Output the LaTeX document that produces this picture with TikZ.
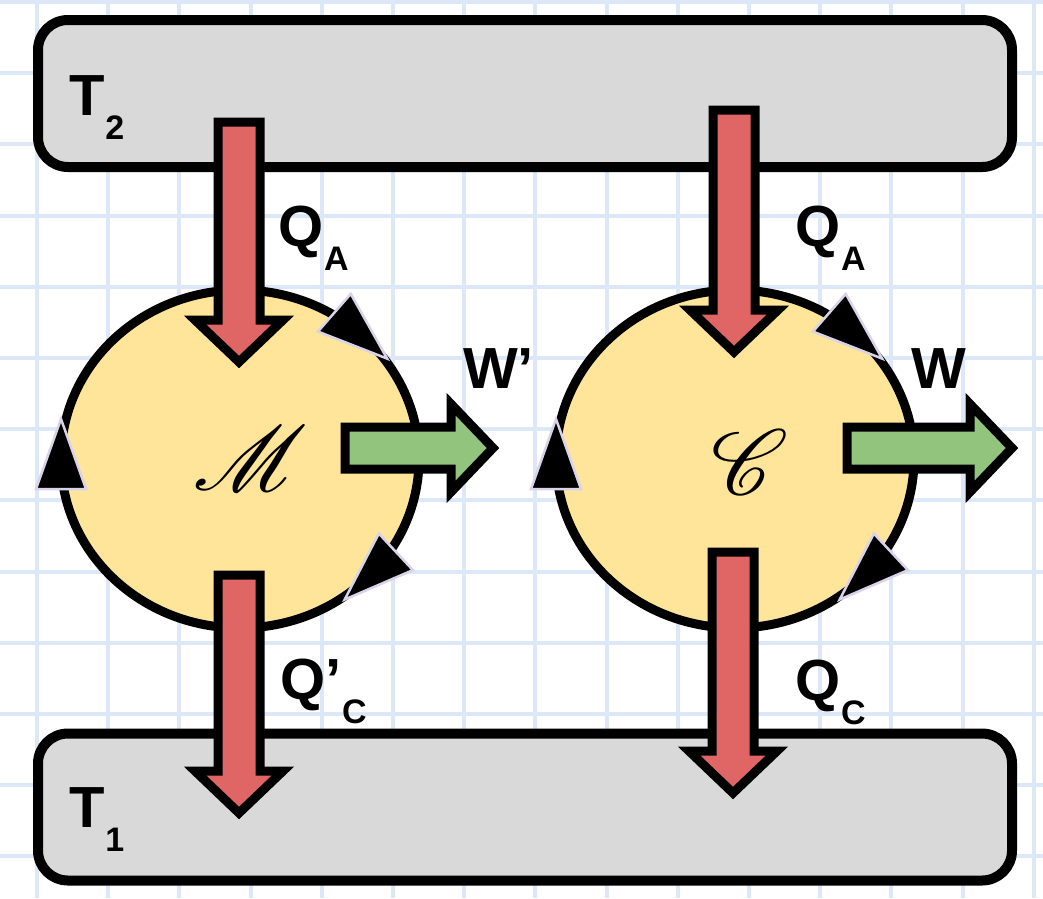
\documentclass[tikz,border=0pt]{standalone}
\usepackage{fontspec}
\setmainfont{Liberation Sans}
\usetikzlibrary{shapes.geometric}
\DeclareFontFamily{U}{myrsfs}{}
\DeclareFontShape{U}{myrsfs}{m}{n}{<-> rsfs10}{}
\newcommand\scriptletter[1]{{\usefont{U}{myrsfs}{m}{n}\fontsize{92}{92}\selectfont #1}}
\definecolor{gridblue}{HTML}{DCE7F7}
\definecolor{resgrey}{HTML}{D9D9D9}
\definecolor{engyellow}{HTML}{FFE599}
\definecolor{heatred}{HTML}{E06666}
\definecolor{workgreen}{HTML}{93C47D}
\definecolor{trilav}{HTML}{D9D2E9}
\newcommand\subtxt[1]{\kern1pt\raisebox{-24pt}{\fontsize{34}{34}\selectfont #1}}
\newcommand\downblock[4]{% name, x, ytop, ytip
  \draw[blockred] (#2-21,#3) -- (#2+21,#3) -- (#2+21,#4-42) -- (#2+44,#4-42) -- (#2,#4) -- (#2-44,#4-42) -- (#2-21,#4-42) -- cycle;
  \coordinate (#1) at (#2,#4);}
\newcommand\rightblock[4]{% name, y, xleft, xtip
  \draw[blockgreen] (#3,#2-21) -- (#3,#2+21) -- (#4-42,#2+21) -- (#4-42,#2+44) -- (#4,#2) -- (#4-42,#2-44) -- (#4-42,#2-21) -- cycle;
  \coordinate (#1) at (#4,#2);}
\newcommand\cyctri[3]{\filldraw[cyctriangle,shift={(#1,#2)},rotate=#3] (-34,-25) -- (-34,25) -- (36,0) -- cycle;}
\tikzset{
  gridline/.style={draw=gridblue, line width=4pt},
  reservoir/.style={rectangle, rounded corners=30pt, draw=black, line width=10pt, fill=resgrey, minimum width=974pt, minimum height=147pt, inner sep=0pt, outer sep=0pt},
  engine/.style={ellipse, draw=black, line width=9pt, fill=engyellow, minimum width=358pt, minimum height=338pt, inner sep=0pt, outer sep=0pt},
  blockred/.style={draw=black, fill=heatred, line width=9pt, line join=miter},
  blockgreen/.style={draw=black, fill=workgreen, line width=9pt, line join=miter},
  cyctriangle/.style={fill=black, draw=trilav, line width=2.5pt, line join=miter},
  lbl/.style={anchor=base west, inner sep=0pt, outer sep=0pt, font=\fontsize{58}{58}\selectfont\bfseries},
  scriptlbl/.style={inner sep=0pt}
}
\begin{document}
\begin{tikzpicture}[x=1pt,y=-1pt]
\useasboundingbox (0,0) rectangle (1043,898);
\fill[white] (0,0) rectangle (1043,898);
% grid
\foreach \i in {0,...,14} \draw[gridline] (37+71.2*\i,0) -- (37+71.2*\i,898);
\foreach \j in {0,...,12} \draw[gridline] (0,2+71.2*\j) -- (1043,2+71.2*\j);
% reservoirs
\node[reservoir] (hot) at (525,93.5) {};
\node[reservoir] (cold) at (525,807) {};
% engines
\node[engine] (engM) at (240,459) {};
\node[engine] (engC) at (735,459) {};
% cycle direction triangles
\cyctri{61}{455}{90}
\cyctri{360}{335}{-41}
\cyctri{371}{575}{-137}
\cyctri{556}{455}{90}
\cyctri{855}{335}{-41}
\cyctri{866}{575}{-137}
% heat flows
\downblock{qaL}{239}{122}{362}
\downblock{qaR}{734}{110}{352}
\downblock{qcL}{239}{575}{813}
\downblock{qcR}{733}{552}{793}
% work
\rightblock{wL}{448}{345}{493}
\rightblock{wR}{448}{847}{1012}
% labels
\node[lbl] (lt2) at (69,115) {T\subtxt{2}};
\node[lbl] (lt1) at (69,827) {T\subtxt{1}};
\node[lbl] (lqaL) at (278,246) {Q\subtxt{A}};
\node[lbl] (lqaR) at (795,246) {Q\subtxt{A}};
\node[lbl] (lwL) at (463,388) {W’};
\node[lbl] (lwR) at (911,388) {W};
\node[lbl] (lqcL) at (280,699) {Q’\subtxt{C}};
\node[lbl] (lqcR) at (795,700) {Q\subtxt{C}};
% engine names
\node[scriptlbl] (nm) at (243,458) {\scriptletter{M}};
\node[scriptlbl] (nc) at (742,462) {\scriptletter{C}};
\end{tikzpicture}
\end{document}
